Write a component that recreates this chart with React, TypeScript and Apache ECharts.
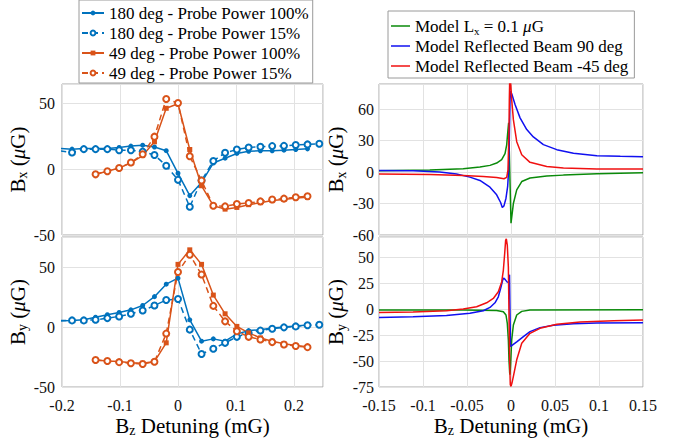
import React, { useEffect, useRef } from 'react';
import * as echarts from 'echarts';

const FONT = 'Liberation Serif, Times New Roman, serif';

// ---- Experimental data (left panels), detuning in mG ----
const expX = [-0.203, -0.1827, -0.1624, -0.1421, -0.1218, -0.1015, -0.0812, -0.0609, -0.0406, -0.0203, 0, 0.0203, 0.0406, 0.0609, 0.0812, 0.1015, 0.1218, 0.1421, 0.1624, 0.1827, 0.203, 0.2233, 0.2436];

const bx180_100 = [15.9, 15.4, 15.9, 15.9, 15.9, 16.7, 17.7, 18.4, 17, 14.2, -3, -20, -10, 4.8, 8.5, 12.1, 13.8, 14.1, 14.1, 14.6, 15.1, 15.6, null];
const bx180_15 = [14, 12.8, 15.4, 15.4, 15.4, 14.6, 14.5, 13.5, 10.9, 2.8, -8, -28.5, -8.5, 6.4, 12.6, 15.1, 16.7, 17.2, 17.7, 17.9, 18.5, 19, 19.5];
const bx49_100 = [null, null, null, -3.8, -1.5, 1, 4.9, 10.5, 21, 46.5, 50, 15.1, -12.5, -27.7, -30.3, -29, -26.9, -25.4, -23.8, -23, -21.8, -21.3, null];
const bx49_15 = [null, null, null, -3.8, -1.5, 1, 5.2, 11.5, 24.9, 53.6, 50.5, 10, -8.5, -27.7, -28.2, -26.4, -25.6, -24.4, -23, -22.3, -21.3, -20.5, null];

const by180_100 = [5.2, 5.5, 6, 8.2, 10.2, 12.1, 14.3, 17.9, 25.3, 35.7, 40.7, 6, -11.8, -9.9, -11.8, -5.8, -3, -2.2, -0.8, 0, 0.8, 1.6, null];
const by180_15 = [5.3, 5.5, 5.5, 6, 7.4, 8.8, 11, 13.7, 17.9, 22.5, 23.4, -2.2, -22.5, -18.1, -13.2, -8.2, -4.9, -3, -1.4, -0.3, 0.5, 1.4, 1.9];
const by49_100 = [null, null, null, -27.5, -28.3, -28.8, -29.7, -30.2, -28.8, -13.2, 52.2, 64.3, 52.2, 26.6, 11, 0.5, -4.9, -9.1, -11.8, -14, -15.4, -16.5, null];
const by49_15 = [null, null, null, -27.5, -28.3, -29.3, -30.2, -30.8, -29, -5.5, 45.9, 60.2, 43.7, 17.6, 4.7, -3.6, -8.2, -10.4, -12.6, -14.6, -15.9, -16.8, null];

// ---- Model curves (right panels) ----
const mBxGreenX = [-0.15, -0.0923, -0.0543, -0.0353, -0.0239, -0.0163, -0.0106, -0.0068, -0.0049, -0.0038, -0.0027, 0, 0.0027, 0.0065, 0.0122, 0.0216, 0.0406, 0.0596, 0.0976, 0.15];
const mBxGreenY = [1.3, 1.9, 3.2, 4.8, 6.4, 8.6, 11.8, 17.5, 26, 37, 47, -48.8, -30, -17, -9, -5.7, -3.8, -2.9, -1.6, -0.6];

const mBxBlueX = [-0.15, -0.1113, -0.0809, -0.0619, -0.0467, -0.0353, -0.0239, -0.0163, -0.0118, -0.0099, -0.008, -0.0057, -0.0038, -0.0027, -0.0019, -0.0011, -0.0004, 0.0011, 0.0046, 0.0103, 0.0179, 0.0254, 0.0368, 0.052, 0.071, 0.0976, 0.1242, 0.15];
const mBxBlueY = [1.6, 1.3, 0, -1.9, -4.8, -8, -14.4, -21.7, -29, -33.8, -32.2, -24.9, -13.7, 2.2, 31, 69, 77.2, 74, 64.4, 51.7, 40.5, 33.5, 26.2, 21.4, 17.9, 15.6, 15, 14.7];

const mBxRedX = [-0.15, -0.0923, -0.0543, -0.0315, -0.0163, -0.008, -0.0049, -0.0034, -0.0023, -0.0019, -0.0013, -0.0004, 0.0008, 0.0027, 0.0065, 0.0122, 0.0216, 0.0406, 0.0596, 0.0976, 0.15];
const mBxRedY = [-1.9, -2.2, -3.2, -4.1, -5.1, -6.4, -5.1, 2.2, 40.5, 69, 95, 85, 69, 50, 29, 16.6, 9.3, 5.4, 3.8, 2.9, 2.9];

const mByGreenX = [-0.15, -0.0543, -0.0163, -0.0087, -0.0057, -0.0042, -0.003, -0.0023, -0.0015, -0.0011, -0.0004, 0.0008, 0.0027, 0.0065, 0.0122, 0.0216, 0.15];
const mByGreenY = [-0.6, -0.6, -1, -2.2, -5.4, -13.5, -29.5, -48.7, -61.5, -63, -52, -29.5, -15.1, -5.4, -1.9, -0.6, -0.3];

const mByBlueX = [-0.15, -0.1113, -0.0733, -0.0467, -0.0315, -0.0239, -0.0182, -0.0144, -0.0118, -0.0095, -0.0084, -0.0065, -0.0046, -0.0027, -0.0017, -0.0011, -0.0006, 0.0008, 0.0065, 0.0141, 0.0216, 0.033, 0.0482, 0.071, 0.0976, 0.15];
const mByBlueY = [-7.7, -7, -5.8, -3.8, -1.3, 1.9, 6.4, 12.2, 20.2, 28.2, 30.4, 28.8, 26.6, 26, 33.6, -3.8, -35.9, -34.9, -31.4, -26.3, -21.5, -17.6, -15.4, -13.8, -13.1, -12.8];

const mByRedX = [-0.15, -0.1113, -0.0733, -0.0543, -0.0391, -0.0277, -0.0201, -0.0144, -0.0106, -0.0087, -0.0072, -0.0061, -0.0053, -0.0042, -0.003, -0.0023, -0.0015, -0.0008, 0, 0.0011, 0.0027, 0.0065, 0.0122, 0.0216, 0.033, 0.052, 0.0786, 0.1166, 0.15];
const mByRedY = [-2.9, -2.6, -1.3, 0.3, 2.6, 6.4, 10.6, 17, 26.6, 37.8, 53.8, 66.7, 68.3, 61.9, 41, -3.8, -51.9, -72.8, -74.4, -71.2, -64.7, -48.7, -32.7, -23.1, -18.3, -14.4, -12.2, -10.9, -10.3];

// ---- Names / labels ----
const S180_100 = '180 deg - Probe Power 100%';
const S180_15 = '180 deg - Probe Power 15%';
const S49_100 = '49 deg - Probe Power 100%';
const S49_15 = '49 deg - Probe Power 15%';
const M_LX = 'Model Lx = 0.1 μG';
const M_90 = 'Model Reflected Beam 90 deg';
const M_45 = 'Model Reflected Beam -45 deg';

const BLUE = '#0072BD';
const ORANGE = '#D95319';
const MGREEN = '#0a8a0a';
const MBLUE = '#1010f0';
const MRED = '#f01010';

function pairs(xs: number[], ys: (number | null)[]) {
  const out: number[][] = [];
  xs.forEach((x, i) => {
    const y = ys[i];
    if (y !== null && y !== undefined) out.push([x, y]);
  });
  return out;
}

const nameRich = {
  n: { fontFamily: FONT, fontSize: 21, lineHeight: 24, color: '#000' },
  s: { fontFamily: FONT, fontSize: 14, lineHeight: 14, padding: [10, 0, 0, 0], color: '#000' },
  i: { fontFamily: FONT, fontSize: 21, lineHeight: 24, fontStyle: 'italic', color: '#000' },
};

function makeX(gridIndex: number, min: number, max: number, interval: number, showLabels: boolean) {
  return {
    type: 'value',
    gridIndex,
    min,
    max,
    interval,
    axisLine: { show: false },
    axisTick: { show: false },
    axisLabel: {
      show: showLabels,
      showMaxLabel: max === 0.15,
      fontFamily: FONT,
      fontSize: 16,
      color: '#111',
      margin: 10,
    },
    splitLine: { show: true, lineStyle: { color: '#e2e2e2', width: 1 } },
    name: showLabels ? '{n|B}{s|z}{n| Detuning (mG)}' : '',
    nameLocation: 'middle',
    nameGap: 25,
    nameTextStyle: { rich: nameRich, fontFamily: FONT, fontSize: 21 },
  };
}

function makeY(gridIndex: number, min: number, max: number, interval: number, sub: string, margin: number, gap: number) {
  return {
    type: 'value',
    gridIndex,
    min,
    max,
    interval,
    axisLine: { show: false },
    axisTick: { show: false },
    axisLabel: {
      showMaxLabel: false,
      fontFamily: FONT,
      fontSize: 16,
      color: '#111',
      margin,
    },
    splitLine: { show: true, lineStyle: { color: '#e2e2e2', width: 1 } },
    name: '{n|B}{s|' + sub + '}{n| (}{i|μ}{n|G)}',
    nameLocation: 'middle',
    nameRotate: 90,
    nameGap: gap,
    nameTextStyle: { rich: nameRich, fontFamily: FONT, fontSize: 21 },
  };
}

function expSeries(name: string, xi: number, data: number[][], color: string, symbol: string, dashed: boolean) {
  return {
    type: 'line',
    name,
    xAxisIndex: xi,
    yAxisIndex: xi,
    data,
    color,
    symbol,
    symbolSize: symbol === 'emptyCircle' ? 6 : 5,
    showSymbol: true,
    clip: true,
    lineStyle: { width: 1.5, color, type: dashed ? [6, 4] : 'solid' },
    itemStyle: { color },
    z: 3,
  };
}

function modelSeries(name: string, xi: number, data: number[][], color: string) {
  return {
    type: 'line',
    name,
    xAxisIndex: xi,
    yAxisIndex: xi,
    data,
    color,
    symbol: 'none',
    showSymbol: false,
    clip: true,
    lineStyle: { width: 1.5, color },
    itemStyle: { color },
  };
}

export default function App() {
  const ref = useRef<HTMLDivElement>(null);

  useEffect(() => {
    document.body.style.margin = '0';
    if (!ref.current) return;
    const chart = echarts.init(ref.current, undefined, { renderer: 'svg' });
    const border = '#a8a8a8';
    const legendText = { fontFamily: FONT, fontSize: 17, lineHeight: 20, color: '#000' };
    const option: any = {
      animation: false,
      backgroundColor: '#fff',
      textStyle: { fontFamily: FONT },
      grid: [
        { left: 62, top: 84, width: 261, height: 151, show: true, borderColor: border, borderWidth: 1, backgroundColor: '#fff' },
        { left: 62, top: 237, width: 261, height: 150, show: true, borderColor: border, borderWidth: 1, backgroundColor: '#fff' },
        { left: 379, top: 84, width: 264, height: 151, show: true, borderColor: border, borderWidth: 1, backgroundColor: '#fff' },
        { left: 379, top: 237, width: 264, height: 150, show: true, borderColor: border, borderWidth: 1, backgroundColor: '#fff' },
      ],
      xAxis: [
        makeX(0, -0.2, 0.25, 0.1, false),
        makeX(1, -0.2, 0.25, 0.1, true),
        makeX(2, -0.15, 0.15, 0.05, false),
        makeX(3, -0.15, 0.15, 0.05, true),
      ],
      yAxis: [
        makeY(0, -50, 65, 50, 'x', 7, 29),
        makeY(1, -50, 75, 50, 'y', 7, 29),
        makeY(2, -60, 84, 30, 'x', 5, 31),
        makeY(3, -75, 70, 25, 'y', 5, 31),
      ],
      legend: [
        {
          data: [S180_100, S180_15, S49_100, S49_15],
          orient: 'vertical',
          left: 79,
          top: 0,
          padding: [3, 4, 0, 2],
          itemGap: 0,
          itemWidth: 22,
          itemHeight: 6,
          backgroundColor: '#fff',
          borderColor: '#9a9a9a',
          borderWidth: 1,
          borderRadius: 0,
          selectedMode: false,
          formatter: (name: string) => '{n|' + name + '}',
          textStyle: { ...legendText, rich: { n: legendText } },
        },
        {
          data: [
            { name: M_LX, icon: 'rect' },
            { name: M_90, icon: 'rect' },
            { name: M_45, icon: 'rect' },
          ],
          orient: 'vertical',
          left: 388,
          top: 11,
          padding: [5, 6, 2, 3],
          itemGap: 0,
          itemWidth: 19,
          itemHeight: 1.5,
          backgroundColor: '#fff',
          borderColor: '#9a9a9a',
          borderWidth: 1,
          borderRadius: 0,
          selectedMode: false,
          formatter: (name: string) =>
            name === M_LX ? '{n|Model L}{s|x}{n| = 0.1 }{i|μ}{n|G}' : '{n|' + name + '}',
          textStyle: {
            ...legendText,
            rich: {
              n: legendText,
              s: { fontFamily: FONT, fontSize: 11, lineHeight: 11, verticalAlign: 'bottom', color: '#000' },
              i: { ...legendText, fontStyle: 'italic' },
            },
          },
        },
      ],
      series: [
        expSeries(S180_100, 0, pairs(expX, bx180_100), BLUE, 'circle', false),
        expSeries(S180_15, 0, pairs(expX, bx180_15), BLUE, 'emptyCircle', true),
        expSeries(S49_100, 0, pairs(expX, bx49_100), ORANGE, 'rect', false),
        expSeries(S49_15, 0, pairs(expX, bx49_15), ORANGE, 'emptyCircle', true),
        expSeries(S180_100, 1, pairs(expX, by180_100), BLUE, 'circle', false),
        expSeries(S180_15, 1, pairs(expX, by180_15), BLUE, 'emptyCircle', true),
        expSeries(S49_100, 1, pairs(expX, by49_100), ORANGE, 'rect', false),
        expSeries(S49_15, 1, pairs(expX, by49_15), ORANGE, 'emptyCircle', true),
        modelSeries(M_LX, 2, pairs(mBxGreenX, mBxGreenY), MGREEN),
        modelSeries(M_90, 2, pairs(mBxBlueX, mBxBlueY), MBLUE),
        modelSeries(M_45, 2, pairs(mBxRedX, mBxRedY), MRED),
        modelSeries(M_LX, 3, pairs(mByGreenX, mByGreenY), MGREEN),
        modelSeries(M_90, 3, pairs(mByBlueX, mByBlueY), MBLUE),
        modelSeries(M_45, 3, pairs(mByRedX, mByRedY), MRED),
      ],
    };
    chart.setOption(option);
    return () => chart.dispose();
  }, []);

  return (
    <div
      ref={ref}
      style={{ position: 'absolute', left: 0, top: 0, width: 686, height: 439 }}
    />
  );
}
